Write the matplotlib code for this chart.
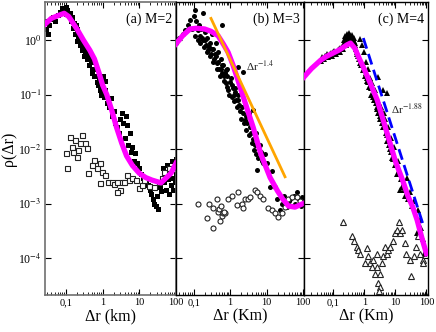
import numpy as np
import matplotlib
matplotlib.use('Agg')
import matplotlib.pyplot as plt
from matplotlib.ticker import LogLocator, FixedLocator, NullFormatter

plt.rcParams['font.family'] = ['Liberation Serif', 'DejaVu Serif']
plt.rcParams['mathtext.fontset'] = 'stix'

# ---- panel (a) M=2 ----
a_curve_x = [0.028, 0.04, 0.06, 0.09, 0.12, 0.2, 0.3, 0.45, 0.6, 0.8, 1.0, 1.3, 1.8, 2.4, 3.3,
             4.5, 6.5, 10, 15, 22, 39, 55, 73, 100]
a_curve_y = [2.0, 2.5, 2.8, 3.1, 2.7, 1.6, 1.0, 0.65, 0.45, 0.25, 0.15, 0.1, 0.05, 0.025, 0.013,
             0.0075, 0.005, 0.0036, 0.003, 0.0027, 0.0024, 0.003, 0.0036, 0.0055]
a_fill_x = [0.029, 0.03, 0.032, 0.035, 0.04, 0.045, 0.05, 0.06, 0.07, 0.08, 0.09, 0.1, 0.1, 0.11,
            0.12, 0.13, 0.14, 0.15, 0.16, 0.17, 0.18, 0.2, 0.2, 0.22, 0.24, 0.26, 0.28, 0.3, 0.32,
            0.35, 0.38, 0.4, 0.43, 0.45, 0.5, 0.55, 0.6, 0.65, 0.7, 0.8, 0.85, 0.95, 1.05, 1.1,
            1.2, 1.3, 1.5, 1.7, 1.8, 2.0, 2.2, 2.5, 2.8, 3.0, 3.3, 3.6, 4.0, 4.3, 4.6, 5.0, 5.5,
            6.0, 6.5, 7.0, 7.5, 8.5, 10, 11, 13, 15, 17, 19, 21, 23, 25, 28, 33, 30, 36, 40, 42,
            45, 48, 52, 55, 58, 62, 65, 70, 72, 78, 82, 85, 90, 95, 98, 100,
            0.105, 0.115, 0.135, 0.145, 0.19, 0.21, 0.23, 0.27, 0.31, 0.34, 0.37, 0.42, 0.48,
            0.52, 0.58, 0.75, 0.9, 1.0, 1.15, 1.4]
a_fill_y = [1.6, 2.2, 1.3, 1.9, 2.4, 2.6, 2.2, 2.9, 3.3, 3.8, 3.5, 4.0, 3.0, 3.6,
            2.8, 3.2, 2.2, 2.6, 1.7, 2.1, 1.3, 1.6, 0.95, 1.2, 0.8, 1.0, 0.65, 0.85, 0.5,
            0.6, 0.45, 0.7, 0.35, 0.5, 0.3, 0.4, 0.22, 0.3, 0.17, 0.2, 0.12, 0.15, 0.22, 0.09,
            0.18, 0.07, 0.06, 0.085, 0.04, 0.05, 0.03, 0.025, 0.02, 0.035, 0.045, 0.03, 0.016,
            0.04, 0.028, 0.012, 0.02, 0.009, 0.011, 0.006, 0.0085, 0.0055, 0.0045, 0.0035,
            0.003, 0.0025, 0.0022, 0.0018, 0.0015, 0.0012, 0.001, 0.0009, 0.0008, 0.0014, 0.002,
            0.0017, 0.003, 0.0045, 0.0025, 0.0035, 0.0018, 0.005, 0.0028, 0.0015, 0.004, 0.0022,
            0.006, 0.003, 0.0018, 0.0045, 0.0025, 0.0065, 0.0035,
            3.4, 3.0, 2.6, 2.4, 1.9, 1.3, 1.0, 0.75, 0.75, 0.55, 0.6, 0.45, 0.4,
            0.25, 0.3, 0.15, 0.1, 0.12, 0.12, 0.08]
a_open_x = [0.1, 0.128, 0.145, 0.175, 0.24, 0.2, 0.27, 0.33, 0.37, 0.11, 0.155, 0.21, 0.39, 0.6,
            0.69, 0.83, 0.5, 0.94, 1.13, 0.83, 1.37, 1.75, 2.1, 2.5, 2.9, 2.5, 3.3, 3.9, 4.7,
            5.4, 6.5, 8.3, 10, 12, 13.6, 18.6, 25, 35, 42, 47, 65]
a_open_y = [0.0085, 0.0166, 0.011, 0.0146, 0.013, 0.0072, 0.018, 0.013, 0.0105, 0.0045, 0.0088,
            0.0095, 0.0036, 0.0063, 0.0045, 0.0055, 0.005, 0.0038, 0.0034, 0.0024, 0.0025,
            0.0025, 0.0023, 0.0025, 0.0018, 0.0016, 0.0025, 0.0025, 0.0034, 0.0027, 0.0029,
            0.0027, 0.0019, 0.0022, 0.0027, 0.0021, 0.002, 0.0025, 0.003, 0.0038, 0.0045]

# ---- panel (b) M=3 ----
b_curve_x = [0.033, 0.05, 0.08, 0.12, 0.2, 0.3, 0.47, 0.65, 0.88, 1.2, 1.66, 2.6, 4.3, 7,
             12.5, 20, 28, 40, 60, 100]
b_curve_y = [0.85, 1.2, 1.6, 1.65, 1.6, 1.45, 1.2, 0.85, 0.6, 0.35, 0.18, 0.07, 0.025, 0.008,
             0.003, 0.0017, 0.0012, 0.0009, 0.00086, 0.001]
b_fill_x = [0.034, 0.04, 0.05, 0.06, 0.07, 0.08, 0.09, 0.1, 0.11, 0.12, 0.13, 0.14, 0.15, 0.16,
            0.18, 0.18, 0.2, 0.22, 0.24, 0.25, 0.28, 0.3, 0.32, 0.34, 0.37, 0.4, 0.43, 0.46, 0.5,
            0.55, 0.6, 0.6, 0.65, 0.7, 0.75, 0.8, 0.85, 0.9, 1.0, 1.1, 1.2, 1.3, 1.4, 1.5, 1.65,
            1.7, 1.9, 2.0, 2.2, 2.3, 2.6, 2.8, 3.0, 3.3, 3.6, 4.0, 4.3, 4.3, 4.5, 5.0, 5.5, 6.0,
            7.0, 8.0, 10, 12.5, 14, 17, 19, 23, 26, 30, 36, 40, 44, 50, 55, 60, 68, 75, 85, 94, 100,
            0.11, 0.13, 0.15, 0.17, 0.19, 0.21, 0.23, 0.26, 0.29, 0.31, 0.35, 0.38, 0.42, 0.45,
            0.48, 0.52, 0.57, 0.62, 0.67, 0.72, 0.78, 0.83, 0.95, 1.05, 1.15, 1.25, 1.35, 1.45,
            1.6, 1.8, 2.1, 2.4, 2.7, 3.2, 3.8, 4.8, 5.2, 6.5, 7.5, 9]
b_fill_y = [0.9, 1.1, 1.3, 1.5, 1.9, 2.3, 1.6, 2.8, 3.5, 2.2, 1.5, 1.9, 1.2, 1.6,
            3.1, 1.0, 1.4, 0.8, 1.1, 0.65, 0.9, 0.55, 1.3, 0.7, 0.45, 0.9, 0.38, 0.6, 0.3,
            0.45, 1.9, 0.25, 0.35, 0.18, 0.28, 0.14, 0.22, 0.12, 0.17, 0.09, 0.13, 0.075, 0.11,
            0.06, 0.32, 0.08, 0.05, 0.035, 0.26, 0.045, 0.034, 0.022, 0.03, 0.018, 0.025, 0.013,
            0.052, 0.015, 0.0096, 0.02, 0.0041, 0.007, 0.009, 0.0055, 0.0055, 0.002, 0.004, 0.002,
            0.0012, 0.00077, 0.001, 0.0014, 0.00087, 0.0011, 0.0012, 0.0009, 0.0014, 0.001,
            0.0016, 0.0012, 0.0009, 0.0013, 0.0011,
            1.2, 1.0, 0.9, 1.1, 0.75, 1.0, 0.6, 0.75, 0.5, 0.7, 0.4, 0.55, 0.5, 0.3,
            0.4, 0.22, 0.3, 0.35, 0.22, 0.25, 0.16, 0.3, 0.1, 0.2, 0.15, 0.1, 0.13, 0.08,
            0.1, 0.065, 0.06, 0.03, 0.04, 0.045, 0.02, 0.012, 0.008, 0.012, 0.006, 0.008]
b_open_x = [0.133, 0.23, 0.27, 0.34, 0.34, 0.44, 0.47, 0.53, 0.6, 0.64, 0.73, 0.88, 1.13, 1.55,
            1.66, 2.1, 2.3, 2.6, 3.1, 3.5, 4.8, 5.5, 6.6, 8, 11, 14, 17, 21, 26, 32, 39, 50, 68,
            82, 0.5, 0.55, 0.7]
b_open_y = [0.00098, 0.00054, 0.00098, 0.00035, 0.00083, 0.0012, 0.00071, 0.00048, 0.0006,
            0.00067, 0.00068, 0.0012, 0.0014, 0.00094, 0.0016, 0.001, 0.00083, 0.0012, 0.0012,
            0.0013, 0.0018, 0.0016, 0.0014, 0.0012, 0.00083, 0.00077, 0.00067, 0.00057, 0.00067,
            0.00087, 0.0012, 0.0013, 0.0013, 0.0011, 0.0008, 0.0009, 0.0007]
b_fit_x = [0.3, 32]
b_fit_y = [2.5, 0.0031]

# ---- panel (c) M=4 ----
c_curve_x = [0.0115, 0.015, 0.02, 0.03, 0.04, 0.06, 0.1, 0.15, 0.2, 0.28, 0.36, 0.5, 0.7, 0.93,
             1.5, 2.6, 4, 6.7, 10, 17, 25, 36, 50, 75, 100]
c_curve_y = [0.21, 0.25, 0.3, 0.37, 0.43, 0.5, 0.58, 0.65, 0.72, 0.82, 0.88, 0.7, 0.45, 0.32,
             0.17, 0.08, 0.035, 0.013, 0.006, 0.0027, 0.0014, 0.00087, 0.0005, 0.00021, 0.00012]
c_fill_x = [0.04, 0.05, 0.06, 0.07, 0.08, 0.09, 0.1, 0.12, 0.14, 0.16, 0.18, 0.2, 0.22, 0.24,
            0.26, 0.28, 0.3, 0.33, 0.36, 0.4, 0.45, 0.5, 0.55, 0.6, 0.7, 0.75, 0.8, 0.85, 0.9,
            1.0, 1.05, 1.1, 1.2, 1.3, 1.4, 1.5, 1.7, 1.8, 2.0, 2.2, 2.5, 2.8, 2.8, 3.0, 3.3, 3.6,
            4.0, 4.0, 4.5, 5.0, 5.4, 5.5, 6.0, 6.5, 7.0, 8, 9, 10, 11, 12, 14, 15, 17, 20, 23, 26,
            30, 35, 40, 48, 52, 60, 65, 75, 86, 95,
            0.045, 0.055, 0.065, 0.075, 0.085, 0.11, 0.13, 0.15, 0.17, 0.19, 0.21, 0.23, 0.25,
            0.27, 0.29, 0.31, 0.35, 0.38, 0.42, 0.48, 0.52, 0.58, 0.65, 0.72, 0.95, 1.15, 1.25,
            1.35, 1.6, 1.9, 2.1, 2.3, 2.6, 3.1, 3.4, 3.8, 4.2, 4.8, 5.2, 6.2, 7.5, 8.5, 13, 16, 19]
c_fill_y = [0.42, 0.45, 0.5, 0.48, 0.55, 0.5, 0.6, 0.55, 0.65, 0.6, 0.7, 0.68, 1.0, 1.2,
            0.8, 1.3, 1.1, 1.35, 1.0, 1.25, 1.1, 0.9, 0.7, 0.55, 0.45, 1.05, 0.35, 0.8, 0.28,
            0.6, 0.22, 0.4, 0.18, 0.3, 0.14, 0.2, 0.1, 0.16, 0.08, 0.12, 0.06, 0.21, 0.045, 0.07,
            0.035, 0.05, 0.12, 0.025, 0.035, 0.02, 0.107, 0.014, 0.025, 0.01, 0.016, 0.007, 0.011,
            0.005, 0.0035, 0.006, 0.0018, 0.0028, 0.0022, 0.0014, 0.003, 0.0012, 0.0016, 0.0009,
            0.0011, 0.00029, 0.00077, 0.0005, 0.00035, 0.00022, 0.00012, 2.2e-5,
            0.48, 0.52, 0.55, 0.5, 0.58, 0.62, 0.6, 0.68, 0.72, 0.75, 0.8, 0.85, 1.1,
            0.95, 1.15, 1.2, 1.25, 1.15, 1.0, 0.95, 0.8, 0.6, 0.5, 0.38, 0.3, 0.25, 0.2,
            0.17, 0.13, 0.09, 0.1, 0.07, 0.055, 0.04, 0.06, 0.03, 0.045, 0.025, 0.018, 0.012,
            0.009, 0.0065, 0.004, 0.002, 0.0018]
c_open_x = [0.21, 0.41, 0.45, 0.59, 0.65, 0.75, 1.2, 1.34, 1.55, 1.75, 1.95, 2.2, 2.5, 2.8,
            3.2, 3.0, 3.65, 3.2, 4, 4.6, 5.2, 5.8, 6.7, 8.3, 9.6, 10.9, 12.6, 14, 15.8, 20, 22.6,
            29, 32.5, 41, 47, 52, 60, 75, 80, 2.5, 1.07]
c_open_y = [0.00046, 0.00025, 0.00021, 0.00016, 0.00014, 0.00012, 0.00015, 0.00011, 8e-5,
            6.8e-5, 9.3e-5, 5.2e-5, 6.8e-5, 3.5e-5, 2.9e-5, 2.5e-5, 8e-5, 5.2e-5, 0.00011,
            0.00016, 0.00012, 0.00014, 0.00016, 0.00021, 0.00029, 0.00033, 0.00046, 0.00029,
            0.00033, 0.00019, 0.00012, 9.3e-5, 4.6e-5, 0.00011, 0.00016, 0.00025, 0.00012,
            9.3e-5, 8e-5, 0.00012, 8e-5]
c_fit_x = [0.93, 75]
c_fit_y = [1.09, 0.00044]

magenta = '#ff00ff'
fig = plt.figure(figsize=(4.36, 3.32), dpi=100)
ax1 = fig.add_axes([45/436, 37/332, 131/436, 293/332])
ax2 = fig.add_axes([176/436, 37/332, 128/436, 293/332])
ax3 = fig.add_axes([304/436, 37/332, 124/436, 293/332])

panels = [
    (ax1, (0.027, 100), a_fill_x, a_fill_y, 's', a_open_x, a_open_y, a_curve_x, a_curve_y,
     '(a) M=2', 'Δr (km)'),
    (ax2, (0.033, 106), b_fill_x, b_fill_y, 'o', b_open_x, b_open_y, b_curve_x, b_curve_y,
     '(b) M=3', 'Δr (Km)'),
    (ax3, (0.0115, 112), c_fill_x, c_fill_y, '^', c_open_x, c_open_y, c_curve_x, c_curve_y,
     '(c) M=4', 'Δr (Km)'),
]

for ax, xlim, fx, fy, mk, ox, oy, cx, cy, title, xlabel in panels:
    ax.set_xscale('log')
    ax.set_yscale('log')
    ms = 3.6 if mk != '^' else 4.2
    ax.plot(fx, fy, mk, color='black', ms=ms, mew=0, zorder=2)
    ax.plot(ox, oy, mk, mfc='white', mec='#222222', ms=ms, mew=0.8, zorder=3)
    ax.plot(cx, cy, '-', color=magenta, lw=3.8, zorder=4)
    ax.set_xlim(*xlim)
    ax.set_ylim(2.1e-5, 5)
    ax.xaxis.set_major_locator(FixedLocator([0.1, 1, 10, 100]))
    ax.set_xticklabels(['0,1', '1', '10', '100'])
    ax.xaxis.set_minor_locator(LogLocator(base=10, subs=np.arange(2, 10), numticks=20))
    ax.xaxis.set_minor_formatter(NullFormatter())
    ax.yaxis.set_major_locator(FixedLocator([1e0, 1e-1, 1e-2, 1e-3, 1e-4]))
    ax.yaxis.set_minor_locator(FixedLocator([]))
    ax.tick_params(which='both', direction='in', top=True, right=True, labelsize=7.5, pad=2.5)
    ax.tick_params(axis='y', labelsize=8.5)
    ax.tick_params(which='major', length=4, width=0.8)
    ax.tick_params(which='minor', length=2.2, width=0.6)
    ax.text(0.97, 0.965, title, transform=ax.transAxes, ha='right', va='top', fontsize=10)
    ax.set_xlabel(xlabel, fontsize=11.5, labelpad=1)

ax1.set_yticklabels(['10$^{0}$', '10$^{-1}$', '10$^{-2}$', '10$^{-3}$', '10$^{-4}$'])
ax1.set_ylabel('ρ(Δr)', fontsize=11.5, labelpad=1)
ax2.set_yticklabels([])
ax3.set_yticklabels([])
for sp in ax1.spines.values():
    sp.set_color('#707070')
    sp.set_linewidth(1.2)
for ax in (ax2, ax3):
    for sp in ax.spines.values():
        sp.set_linewidth(1.0)

ax2.plot(b_fit_x, b_fit_y, '-', color='#ffa500', lw=2.0, zorder=5)
ax2.text(2.7, 0.28, r'Δr$^{-1.4}$', fontsize=8, color='#222222')
ax3.plot(c_fit_x, c_fit_y, '--', color='#0000ff', lw=2.0, dashes=(4, 2), zorder=5)
ax3.text(7.5, 0.045, r'Δr$^{-1.88}$', fontsize=8, color='#222222')

fig.savefig('out.png', dpi=100)
